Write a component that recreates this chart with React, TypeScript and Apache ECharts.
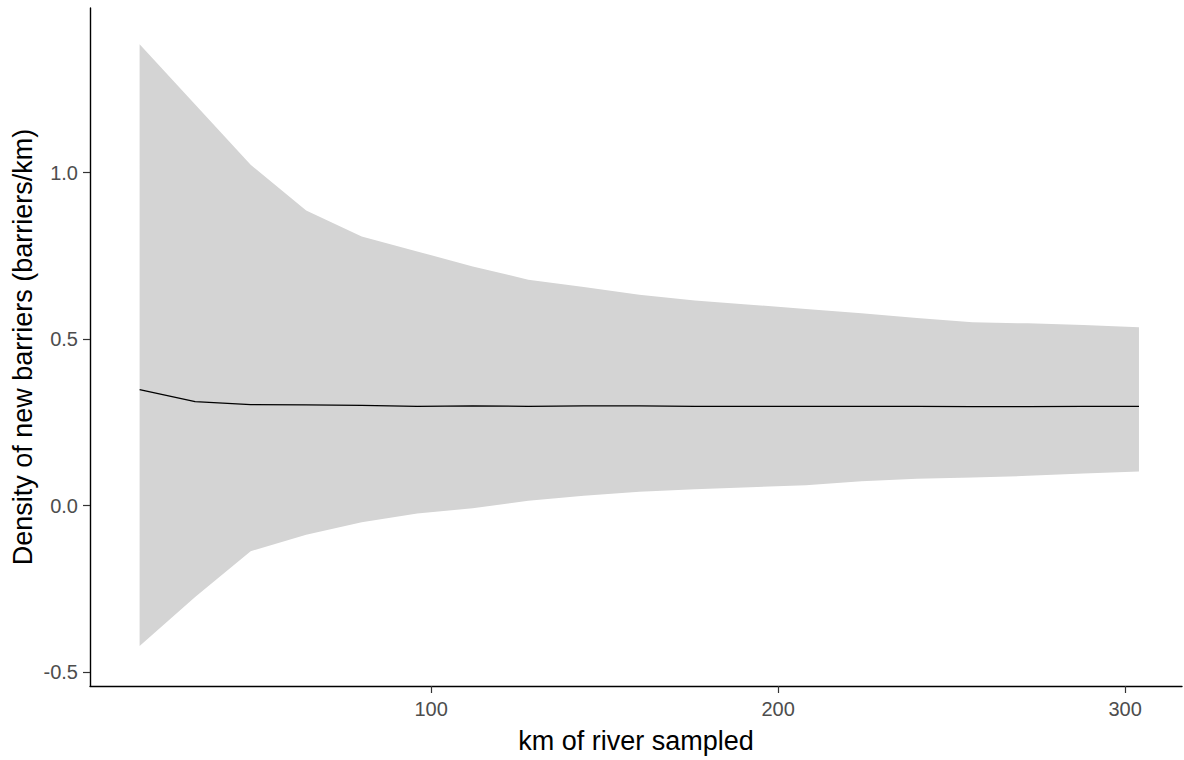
import React, { useEffect, useRef } from "react";
import * as echarts from "echarts";

const kmSampled = [16, 32, 48, 64, 80, 96, 112, 128, 144, 160, 176, 192, 208, 224, 240, 256, 272, 288, 304];
const meanDensity = [0.348, 0.312, 0.303, 0.302, 0.301, 0.298, 0.299, 0.298, 0.299, 0.299, 0.298, 0.298, 0.298, 0.298, 0.298, 0.297, 0.297, 0.298, 0.298];
const upperCI = [1.385, 1.204, 1.023, 0.886, 0.808, 0.763, 0.718, 0.678, 0.656, 0.633, 0.616, 0.603, 0.59, 0.577, 0.563, 0.55, 0.547, 0.542, 0.535];
const lowerCI = [-0.422, -0.275, -0.137, -0.088, -0.05, -0.024, -0.008, 0.014, 0.029, 0.041, 0.049, 0.055, 0.061, 0.073, 0.08, 0.084, 0.089, 0.096, 0.102];
const xTicks = [100, 200, 300];
const yTicks = [-0.5, 0, 0.5, 1.0];

export default function App() {
  const ref = useRef<HTMLDivElement>(null);
  useEffect(() => {
    const chart = echarts.init(ref.current!, null, { renderer: "svg" });
    const font = "Liberation Sans, Arial, sans-serif";
    const bandData = kmSampled.map((x, i) => [x, lowerCI[i], upperCI[i]]);
    chart.setOption({
      animation: false,
      backgroundColor: "#ffffff",
      grid: { left: 90, right: 2, top: 8, bottom: 74, containLabel: false, outerBoundsMode: "none" },
      xAxis: {
        type: "value",
        min: 1.7,
        max: 316.4,
        name: "km of river sampled",
        nameLocation: "middle",
        nameGap: 41,
        nameMoveOverlap: false,
        nameTextStyle: { fontFamily: font, fontSize: 27, color: "#000" },
        axisLine: { onZero: false, lineStyle: { color: "#000", width: 1.4 } },
        axisTick: { show: true, length: 7, lineStyle: { color: "#333", width: 1.2 }, customValues: xTicks },
        axisLabel: { fontFamily: font, fontSize: 20, color: "#4d4d4d", margin: 13, customValues: xTicks },
        splitLine: { show: false },
      },
      yAxis: {
        type: "value",
        min: -0.542,
        max: 1.494,
        name: "Density of new barriers (barriers/km)",
        nameLocation: "middle",
        nameGap: 54,
        nameMoveOverlap: false,
        nameTextStyle: { fontFamily: font, fontSize: 27, color: "#000" },
        axisLine: { show: true, onZero: false, lineStyle: { color: "#000", width: 1.4 } },
        axisTick: { show: true, length: 7, lineStyle: { color: "#333", width: 1.2 }, customValues: yTicks },
        axisLabel: {
          fontFamily: font,
          fontSize: 20,
          color: "#4d4d4d",
          margin: 12,
          customValues: yTicks,
          formatter: (v: number) => v.toFixed(1),
        },
        splitLine: { show: false },
      },
      series: [
        {
          type: "custom",
          coordinateSystem: "cartesian2d",
          data: bandData,
          encode: { x: 0, y: [1, 2] },
          silent: true,
          z: 1,
          renderItem: (params: any, api: any) => {
            if (params.dataIndex !== 0) return null;
            const top = bandData.map((d) => api.coord([d[0], d[2]]));
            const bottom = bandData.map((d) => api.coord([d[0], d[1]])).reverse();
            return {
              type: "polygon",
              shape: { points: top.concat(bottom) },
              style: { fill: "#d4d4d4", stroke: "none" },
            };
          },
        },
        {
          type: "line",
          data: kmSampled.map((x, i) => [x, meanDensity[i]]),
          symbol: "none",
          z: 3,
          lineStyle: { color: "#000", width: 1.3 },
          silent: true,
        },
      ],
    });
    return () => chart.dispose();
  }, []);
  return <div ref={ref} style={{ position: "fixed", left: 0, top: 0, width: 1184, height: 760 }} />;
}
